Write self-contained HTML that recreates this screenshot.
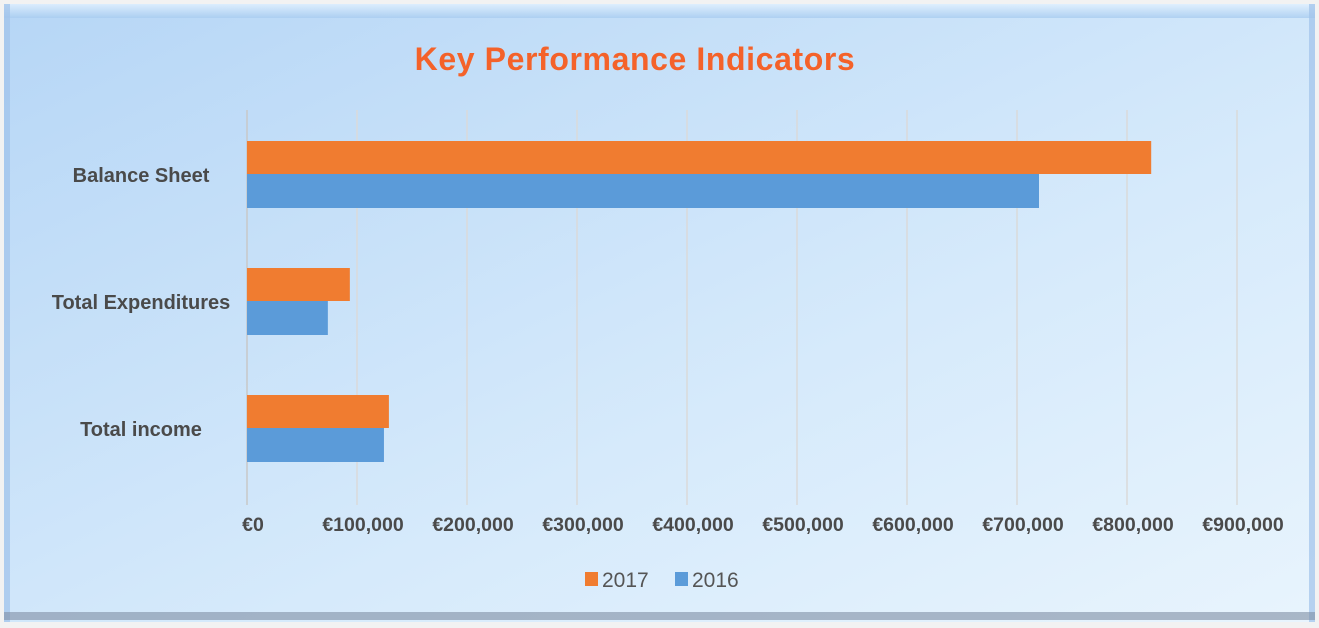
<!DOCTYPE html>
<html><head><meta charset="utf-8"><style>
body{margin:0;width:1319px;height:628px;overflow:hidden;background:#fff;}
svg{display:block;font-family:"Liberation Sans",sans-serif;}
</style></head><body>
<svg id="chart" width="1319" height="628">
<defs>
<linearGradient id="bg" x1="0" y1="0" x2="1" y2="1">
<stop offset="0" stop-color="#b6d6f6"/><stop offset="0.6" stop-color="#d6eafb"/><stop offset="1" stop-color="#e8f4fd"/>
</linearGradient>
<linearGradient id="top" x1="0" y1="0" x2="0" y2="1"><stop offset="0" stop-color="#e4f2ff"/><stop offset="1" stop-color="#a8ccf0"/></linearGradient>
</defs>
<rect x="0" y="0" width="1319" height="628" fill="#f2f2f2"/>
<rect x="4" y="4" width="1311" height="618" fill="url(#bg)"/>
<rect x="4" y="4" width="1311" height="14" fill="url(#top)" opacity="0.8"/>
<rect x="4" y="4" width="6" height="618" fill="#9fc2ea" opacity="0.7"/>
<rect x="1309" y="4" width="6" height="618" fill="#9fc2ea" opacity="0.7"/>
<rect x="4" y="612" width="1311" height="8" fill="#7f8ea3" opacity="0.6"/>
<text x="635" y="70" text-anchor="middle" font-size="32" font-weight="bold" letter-spacing="0.6" fill="#f4622a">Key Performance Indicators</text>
<g id="grid"></g><g id="bars"></g><g id="labels"></g>
<g>
<rect x="585" y="572" width="13" height="14" fill="#f07c30"/>
<text x="602" y="587" font-size="21" fill="#555">2017</text>
<rect x="675" y="572" width="13" height="14" fill="#5b9bd9"/>
<text x="692" y="587" font-size="21" fill="#555">2016</text>
</g>
</svg>
<script>
const categories=["Balance Sheet","Total Expenditures","Total income"];
const values2017=[822000,93500,129000];
const values2016=[720000,73500,124500];
const ticks=[0,100000,200000,300000,400000,500000,600000,700000,800000,900000];
const NS="http://www.w3.org/2000/svg";
const x=v=>247+v*(990/900000);
const bandTop=i=>141+i*127;
function mk(t,a,p){const e=document.createElementNS(NS,t);for(const k in a)e.setAttribute(k,a[k]);p.appendChild(e);return e;}
const grid=document.getElementById('grid'),bars=document.getElementById('bars'),labels=document.getElementById('labels');
ticks.forEach(t=>{
 const l=mk('line',{x1:x(t),x2:x(t),y1:110,y2:505,stroke:t===0?'#c8c8c8':'#dadada','stroke-width':1.5},grid);
 
 
 const tx=mk('text',{x:x(t)+6,y:531,'text-anchor':'middle','font-size':19.5,'font-weight':'bold',fill:'#4a4a4a'},labels);
 tx.textContent='€'+t.toLocaleString('en-US');
 
 
});
categories.forEach((c,i)=>{
 const y0=bandTop(i);
 const b1=mk('rect',{x:x(0),y:y0,width:x(values2017[i])-x(0),height:33,fill:'#f07c30'},bars);
 
 
 const b2=mk('rect',{x:x(0),y:y0+33,width:x(values2016[i])-x(0),height:34,fill:'#5b9bd9'},bars);
 
 
 const t=mk('text',{x:141,y:y0+41,'text-anchor':'middle','font-size':20,'font-weight':'bold',fill:'#4a4a4a'},labels);
 t.textContent=c;
 
 
});
</script>
</body></html>
